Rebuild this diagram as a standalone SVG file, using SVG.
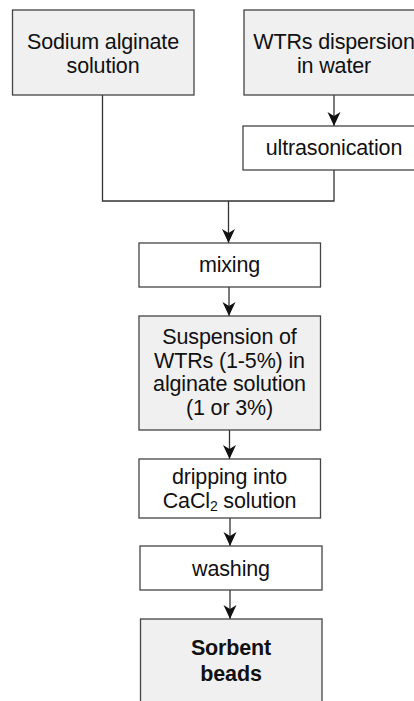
<svg xmlns="http://www.w3.org/2000/svg" width="414" height="701" viewBox="0 0 414 701">
  <style>
    .box { stroke: #444; stroke-width: 1.3; }
    .grey { fill: #f0f0f0; }
    .white { fill: #ffffff; }
    .lbl { font-family: "Liberation Sans", Arial, Helvetica, sans-serif; font-size: 21.5px; letter-spacing: -0.15px; fill: #111; text-anchor: middle; }
    .bold { font-weight: bold; }
    .edge { fill: none; stroke: #333; stroke-width: 1.3; }
  </style>
  <defs>
    <!-- notched arrowhead, tip placed on the end of the line -->
    <marker id="arrow" markerUnits="userSpaceOnUse" markerWidth="16" markerHeight="14" refX="14" refY="6.5" orient="auto">
      <path d="M0,0 L14,6.5 L0,13 L4,6.5 Z" fill="#111"/>
    </marker>
  </defs>
  <rect width="414" height="701" fill="#ffffff"/>

  <g id="connectors">
    <path class="edge" d="M334,95 V126" marker-end="url(#arrow)"/>
    <path class="edge" d="M102.5,95 V201 H334 V170"/>
    <path class="edge" d="M228.5,201 V243" marker-end="url(#arrow)"/>
    <path class="edge" d="M229,287 V316" marker-end="url(#arrow)"/>
    <path class="edge" d="M229.5,430 V459" marker-end="url(#arrow)"/>
    <path class="edge" d="M230,518 V546" marker-end="url(#arrow)"/>
    <path class="edge" d="M230,590 V619" marker-end="url(#arrow)"/>
  </g>

  <g id="sodium-alginate">
    <rect class="box grey" x="12.5" y="10" width="181.5" height="85"/>
    <text class="lbl" x="103" y="49">Sodium alginate</text>
    <text class="lbl" x="103" y="72.5">solution</text>
  </g>

  <g id="wtrs-dispersion">
    <rect class="box grey" x="244" y="10" width="182" height="85"/>
    <text class="lbl" x="334" y="49">WTRs dispersion</text>
    <text class="lbl" x="334" y="72.5">in water</text>
  </g>

  <g id="ultrasonication">
    <rect class="box white" x="243" y="126" width="183" height="44"/>
    <text class="lbl" x="334" y="155">ultrasonication</text>
  </g>

  <g id="mixing">
    <rect class="box white" x="139" y="243" width="181.5" height="44"/>
    <text class="lbl" x="229.5" y="272">mixing</text>
  </g>

  <g id="suspension">
    <rect class="box grey" x="139" y="316" width="181.5" height="114"/>
    <text class="lbl" x="229.5" y="344">Suspension of</text>
    <text class="lbl" x="229.5" y="367.5">WTRs (1-5%) in</text>
    <text class="lbl" x="229.5" y="391">alginate solution</text>
    <text class="lbl" x="229.5" y="414.5">(1 or 3%)</text>
  </g>

  <g id="dripping">
    <rect class="box white" x="139" y="459" width="181.5" height="59"/>
    <text class="lbl" x="229.5" y="484.3">dripping into</text>
    <text class="lbl" x="229.5" y="507.7">CaCl<tspan font-size="14" dy="3">2</tspan><tspan dy="-3"> solution</tspan></text>
  </g>

  <g id="washing">
    <rect class="box white" x="140" y="546" width="182" height="44"/>
    <text class="lbl" x="231" y="575.7">washing</text>
  </g>

  <g id="sorbent-beads">
    <rect class="box grey" x="140.5" y="619" width="181.5" height="100"/>
    <text class="lbl bold" x="231" y="655">Sorbent</text>
    <text class="lbl bold" x="231" y="681">beads</text>
  </g>
</svg>
